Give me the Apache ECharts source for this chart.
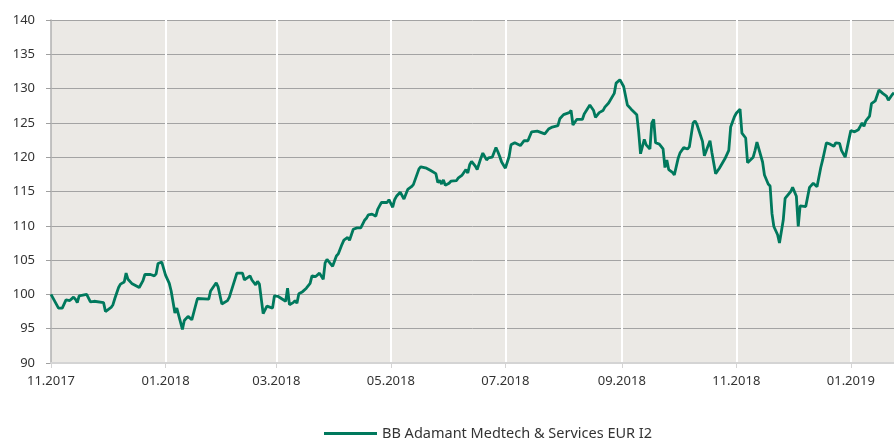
<!DOCTYPE html>
<html>
<head>
<meta charset="utf-8">
<script src="https://cdn.jsdelivr.net/npm/echarts@6/dist/echarts.min.js"></script>
<style>
  html, body { margin: 0; padding: 0; background: #fff; }
  #chart { width: 894px; height: 440px; }
</style>
</head>
<body>
<div id="chart"></div>
<script>
// Kursverlauf (indexiert, Start = 100)
const seriesName = 'BB Adamant Medtech & Services EUR I2';
const startDate = '2017-11-01';
const endDate = '2019-01-24';
const tickLabels = ['11.2017', '01.2018', '03.2018', '05.2018', '07.2018', '09.2018', '11.2018', '01.2019'];

const dates = [
  '2017-11-01','2017-11-05','2017-11-07','2017-11-09','2017-11-11','2017-11-13','2017-11-14','2017-11-15','2017-11-16','2017-11-20',
  '2017-11-22','2017-11-24','2017-11-29','2017-11-30','2017-12-03','2017-12-04','2017-12-05','2017-12-07','2017-12-08','2017-12-10',
  '2017-12-11','2017-12-12','2017-12-14','2017-12-18','2017-12-20','2017-12-21','2017-12-24','2017-12-26','2017-12-27','2017-12-28',
  '2017-12-30','2017-12-31','2018-01-01','2018-01-03','2018-01-04','2018-01-06','2018-01-07','2018-01-08','2018-01-10','2018-01-11',
  '2018-01-13','2018-01-14','2018-01-15','2018-01-18','2018-01-24','2018-01-25','2018-01-28','2018-01-29','2018-01-31','2018-02-03',
  '2018-02-04','2018-02-05','2018-02-08','2018-02-11','2018-02-12','2018-02-13','2018-02-15','2018-02-16','2018-02-18','2018-02-19',
  '2018-02-20','2018-02-22','2018-02-24','2018-02-25','2018-02-27','2018-02-28','2018-03-02','2018-03-06','2018-03-07','2018-03-08',
  '2018-03-10','2018-03-11','2018-03-12','2018-03-13','2018-03-15','2018-03-17','2018-03-19','2018-03-20','2018-03-22','2018-03-24',
  '2018-03-26','2018-03-27','2018-03-28','2018-03-31','2018-04-02','2018-04-03','2018-04-05','2018-04-06','2018-04-08','2018-04-09',
  '2018-04-11','2018-04-13','2018-04-15','2018-04-16','2018-04-17','2018-04-18','2018-04-19','2018-04-21','2018-04-23','2018-04-24',
  '2018-04-25','2018-04-26','2018-04-29','2018-04-30','2018-05-02','2018-05-03','2018-05-04','2018-05-06','2018-05-07','2018-05-08',
  '2018-05-10','2018-05-12','2018-05-13','2018-05-14','2018-05-16','2018-05-17','2018-05-20','2018-05-21','2018-05-22','2018-05-23',
  '2018-05-25','2018-05-26','2018-05-27','2018-05-28','2018-05-29','2018-05-30','2018-06-01','2018-06-02','2018-06-05','2018-06-06',
  '2018-06-08','2018-06-09','2018-06-10','2018-06-11','2018-06-12','2018-06-13','2018-06-15','2018-06-16','2018-06-18','2018-06-19',
  '2018-06-21','2018-06-22','2018-06-24','2018-06-26','2018-06-27','2018-06-28','2018-06-29','2018-07-01','2018-07-03','2018-07-04',
  '2018-07-06','2018-07-07','2018-07-09','2018-07-11','2018-07-13','2018-07-15','2018-07-18','2018-07-22','2018-07-24','2018-07-26',
  '2018-07-29','2018-07-30','2018-08-01','2018-08-04','2018-08-05','2018-08-06','2018-08-08','2018-08-11','2018-08-12','2018-08-15',
  '2018-08-17','2018-08-18','2018-08-20','2018-08-22','2018-08-23','2018-08-25','2018-08-28','2018-08-29','2018-08-31','2018-09-01',
  '2018-09-02','2018-09-04','2018-09-06','2018-09-09','2018-09-10','2018-09-11','2018-09-13','2018-09-14','2018-09-16','2018-09-17',
  '2018-09-18','2018-09-19','2018-09-21','2018-09-23','2018-09-24','2018-09-25','2018-09-26','2018-09-28','2018-09-29','2018-10-01',
  '2018-10-02','2018-10-04','2018-10-06','2018-10-07','2018-10-09','2018-10-10','2018-10-11','2018-10-14','2018-10-15','2018-10-18',
  '2018-10-19','2018-10-21','2018-10-23','2018-10-26','2018-10-28','2018-10-29','2018-10-30','2018-10-31','2018-11-01','2018-11-03',
  '2018-11-04','2018-11-06','2018-11-07','2018-11-10','2018-11-11','2018-11-12','2018-11-13','2018-11-15','2018-11-16','2018-11-18',
  '2018-11-19','2018-11-20','2018-11-21','2018-11-23','2018-11-24','2018-11-26','2018-11-27','2018-11-28','2018-11-30','2018-12-01',
  '2018-12-03','2018-12-04','2018-12-05','2018-12-08','2018-12-09','2018-12-10','2018-12-12','2018-12-14','2018-12-15','2018-12-16',
  '2018-12-17','2018-12-19','2018-12-21','2018-12-23','2018-12-24','2018-12-26','2018-12-27','2018-12-29','2018-12-30','2018-12-31',
  '2019-01-01','2019-01-03','2019-01-05','2019-01-06','2019-01-07','2019-01-08','2019-01-09','2019-01-11','2019-01-12','2019-01-14',
  '2019-01-16','2019-01-18','2019-01-20','2019-01-21','2019-01-23','2019-01-24'
];

const values = [
  100.0, 98.0, 98.0, 99.2, 99.1, 99.6, 99.3, 98.8, 99.8, 100.0,
  98.9, 99.0, 98.8, 97.5, 98.1, 98.5, 99.4, 101.0, 101.5, 101.8,
  103.1, 102.2, 101.6, 101.0, 102.0, 102.9, 102.9, 102.7, 103.0, 104.5,
  104.7, 104.6, 102.8, 101.6, 100.5, 97.3, 98.0, 98.0, 94.9, 96.2,
  96.8, 97.0, 96.3, 99.4, 99.3, 100.5, 101.7, 101.1, 98.6, 99.1,
  99.6, 99.7, 103.1, 103.1, 102.1, 102.2, 102.7, 102.1, 101.4, 101.9,
  101.5, 97.2, 98.3, 98.5, 98.0, 99.8, 99.7, 99.0, 100.9, 98.5,
  98.8, 99.1, 98.7, 100.1, 100.4, 100.9, 101.6, 102.7, 102.6, 103.1,
  102.2, 104.6, 105.1, 104.1, 105.6, 105.9, 107.3, 107.9, 108.3, 107.9,
  109.5, 109.7, 109.7, 109.5, 110.8, 111.1, 111.6, 111.7, 111.4, 112.4,
  112.9, 113.4, 113.4, 113.8, 112.7, 113.8, 114.3, 114.9, 115.1, 113.9,
  115.3, 115.7, 116.0, 116.2, 118.3, 118.6, 118.4, 118.5, 118.1, 118.2,
  117.6, 116.3, 116.6, 116.1, 116.7, 115.9, 116.2, 116.5, 116.6, 117.0,
  117.4, 117.6, 118.2, 117.7, 118.9, 119.4, 118.7, 118.2, 119.9, 120.6,
  119.6, 119.9, 120.0, 121.4, 120.8, 120.1, 119.3, 118.4, 120.1, 121.8,
  122.1, 122.3, 121.7, 122.4, 122.4, 123.7, 123.8, 123.4, 124.1, 124.4,
  124.6, 125.6, 126.2, 126.5, 126.8, 124.7, 125.5, 125.5, 126.3, 127.6,
  126.8, 125.8, 126.5, 126.8, 127.3, 127.9, 129.3, 130.8, 131.3, 131.5,
  130.3, 127.6, 127.0, 126.2, 123.7, 120.5, 122.6, 121.8, 121.2, 125.0,
  125.5, 122.1, 121.9, 121.2, 118.5, 119.6, 118.2, 117.8, 117.4, 119.8,
  120.6, 121.4, 121.2, 121.5, 125.0, 125.3, 124.8, 122.3, 120.2, 122.4,
  120.7, 117.6, 118.4, 119.8, 121.0, 124.4, 124.3, 125.9, 126.4, 127.0,
  123.5, 122.8, 119.2, 120.0, 121.0, 122.2, 122.2, 119.3, 117.4, 116.1,
  115.8, 111.8, 109.9, 108.7, 107.5, 110.8, 114.0, 114.1, 115.0, 115.6,
  114.3, 109.9, 112.9, 112.8, 112.6, 115.6, 116.2, 115.7, 115.5, 118.5,
  119.6, 122.1, 121.9, 121.6, 122.1, 122.0, 121.0, 120.0, 120.1, 122.6,
  123.9, 123.7, 124.0, 124.5, 125.0, 124.5, 125.3, 126.0, 127.8, 128.2,
  129.8, 129.3, 128.9, 128.3, 129.1, 129.4
];

// ein Kategorie-Eintrag pro Kalendertag, damit die Monate richtig verteilt sind
function dayList(from, to) {
  const out = [];
  const d = new Date(from + 'T00:00:00Z');
  const end = new Date(to + 'T00:00:00Z');
  while (d <= end) {
    out.push(d.toISOString().slice(0, 10));
    d.setUTCDate(d.getUTCDate() + 1);
  }
  return out;
}
const days = dayList(startDate, endDate);
const lookup = {};
dates.forEach((d, i) => { lookup[d] = values[i]; });
const lineData = days.map(d => (d in lookup ? lookup[d] : null));

function monthLabel(day) {
  return day.slice(5, 7) + '.' + day.slice(0, 4);
}
function isTick(index, day) {
  return day.slice(8) === '01' && tickLabels.indexOf(monthLabel(day)) >= 0;
}

const font = 'Noto Sans';
const chart = echarts.init(document.getElementById('chart'));
chart.setOption({
  animation: false,
  textStyle: { fontFamily: font },
  grid: {
    left: 51, right: 0, top: 20, bottom: 77,
    show: true, backgroundColor: '#ebe9e5', borderWidth: 0
  },
  legend: {
    data: [seriesName],
    left: 324, top: 426, padding: 0,
    icon: 'rect', itemWidth: 53, itemHeight: 3,
    textStyle: { fontFamily: font, fontSize: 14.5, color: '#333' }
  },
  xAxis: {
    type: 'category',
    data: days,
    boundaryGap: false,
    z: 1,
    axisLine: { lineStyle: { color: '#d4d4d4', width: 2 } },
    axisTick: { show: true, interval: isTick, length: 5, lineStyle: { color: '#d4d4d4', width: 1 } },
    axisLabel: {
      interval: isTick, margin: 12,
      formatter: v => monthLabel(v),
      fontFamily: font, fontSize: 13, color: '#333'
    },
    splitLine: {
      show: true,
      interval: (i, d) => i > 0 && isTick(i, d),
      lineStyle: { color: '#ffffff', width: 2 }
    }
  },
  yAxis: {
    type: 'value',
    min: 90, max: 140, interval: 5,
    z: 0,
    axisLine: { show: true, lineStyle: { color: '#b0b0b0', width: 1.5 } },
    axisTick: { show: true, length: 5, lineStyle: { color: '#a0a0a0' } },
    axisLabel: { margin: 16, fontFamily: font, fontSize: 13, color: '#333' },
    splitLine: { lineStyle: { color: '#a3a3a3', width: 1 } }
  },
  series: [{
    name: seriesName,
    type: 'line',
    data: lineData,
    connectNulls: true,
    showSymbol: false,
    symbol: 'none',
    color: '#00795d',
    lineStyle: { width: 2.8, color: '#00795d' }
  }]
});
</script>
</body>
</html>
